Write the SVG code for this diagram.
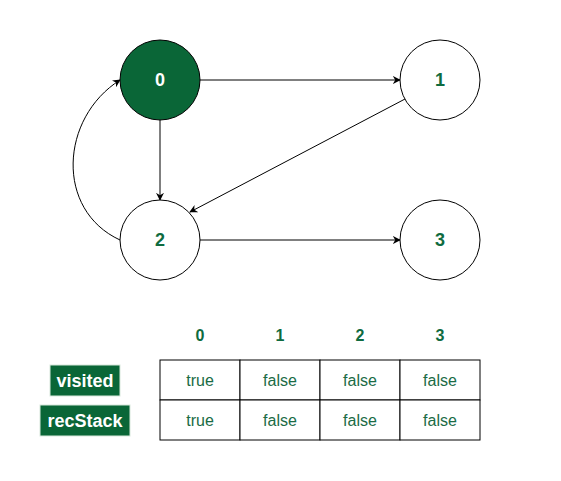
<svg xmlns="http://www.w3.org/2000/svg" width="561" height="481" viewBox="0 0 561 481">
<defs>
<style>
.node{fill:#fff;stroke:#000;stroke-width:1}
.filled{fill:#0a6637;stroke:#000;stroke-width:1}
.nt{font-family:"Liberation Sans",Arial,sans-serif;font-weight:bold;font-size:18px;fill:#0f6b40;text-anchor:middle;dominant-baseline:central}
.nw{fill:#fff}
.edge{fill:none;stroke:#000;stroke-width:1;marker-end:url(#arr)}
.cell{fill:#fff;stroke:#000;stroke-width:1}
.ct{font-family:"Liberation Sans",Arial,sans-serif;font-size:16px;fill:#1a6b45;text-anchor:middle;dominant-baseline:central}
.hd{font-family:"Liberation Sans",Arial,sans-serif;font-weight:bold;font-size:16px;fill:#0f6b40;text-anchor:middle;dominant-baseline:central}
.lbl{fill:#0a6637;stroke:#d8e8dc;stroke-width:1}
.lt{font-family:"Liberation Sans",Arial,sans-serif;font-weight:bold;font-size:18px;fill:#fff;text-anchor:middle;dominant-baseline:central}
</style>
<marker id="arr" viewBox="0 0 10 10" refX="9" refY="5" markerWidth="8" markerHeight="8" markerUnits="userSpaceOnUse" orient="auto">
<path d="M0,0 L10,5 L0,10 L3,5 Z" fill="#000"/>
</marker>
</defs>
<rect width="561" height="481" fill="#fff"/>
<g id="connectors">
<path class="edge" d="M200,80 L400,80"/>
<path class="edge" d="M160,120 L160,200"/>
<path class="edge" d="M405,99 L190,212"/>
<path class="edge" d="M200,240 L400,240"/>
<path class="edge" d="M120,240 C55,210 60,118 120,80"/>
</g>
<g id="node0"><circle class="filled" cx="160" cy="80" r="40"/><text class="nt nw" x="160" y="80">0</text></g>
<g id="node1"><circle class="node" cx="440" cy="80" r="40"/><text class="nt" x="440" y="80">1</text></g>
<g id="node2"><circle class="node" cx="160" cy="240" r="40"/><text class="nt" x="160" y="240">2</text></g>
<g id="node3"><circle class="node" cx="440" cy="240" r="40"/><text class="nt" x="440" y="240">3</text></g>
<g id="headers">
<text class="hd" x="200" y="335">0</text>
<text class="hd" x="280" y="335">1</text>
<text class="hd" x="360" y="335">2</text>
<text class="hd" x="440" y="335">3</text>
</g>
<g id="label-visited"><rect class="lbl" x="50" y="365" width="70" height="31"/><text class="lt" x="85" y="380.5">visited</text></g>
<g id="label-recStack"><rect class="lbl" x="40" y="405" width="90" height="31"/><text class="lt" x="85" y="420.5">recStack</text></g>
<g id="table">
<rect class="cell" x="160" y="360" width="80" height="40"/>
<rect class="cell" x="240" y="360" width="80" height="40"/>
<rect class="cell" x="320" y="360" width="80" height="40"/>
<rect class="cell" x="400" y="360" width="80" height="40"/>
<rect class="cell" x="160" y="400" width="80" height="40"/>
<rect class="cell" x="240" y="400" width="80" height="40"/>
<rect class="cell" x="320" y="400" width="80" height="40"/>
<rect class="cell" x="400" y="400" width="80" height="40"/>
<text class="ct" x="200" y="380">true</text>
<text class="ct" x="280" y="380">false</text>
<text class="ct" x="360" y="380">false</text>
<text class="ct" x="440" y="380">false</text>
<text class="ct" x="200" y="420">true</text>
<text class="ct" x="280" y="420">false</text>
<text class="ct" x="360" y="420">false</text>
<text class="ct" x="440" y="420">false</text>
</g>
</svg>
